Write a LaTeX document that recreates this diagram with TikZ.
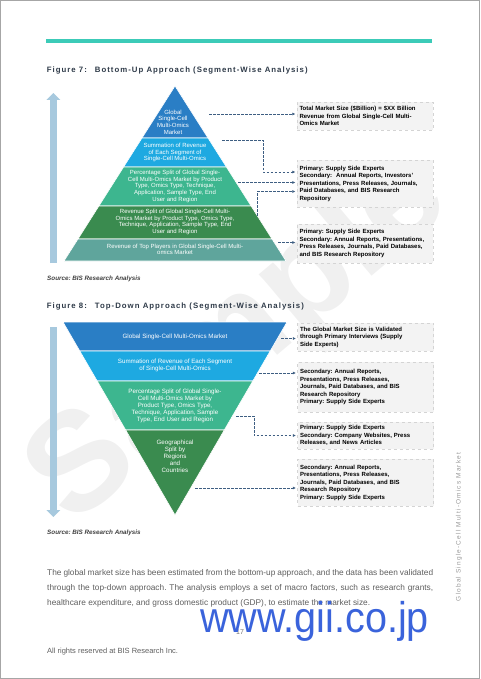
\documentclass[tikz,border=0pt]{standalone}
\usepackage{fontspec}
\setmainfont{Liberation Sans}
\newfontfamily\titlefont[LetterSpace=13]{Liberation Sans}
\newfontfamily\sidefont[LetterSpace=18]{Liberation Sans}
\usetikzlibrary{arrows.meta}
\frenchspacing
\definecolor{rulecol}{HTML}{3CCBB8}
\definecolor{layerA}{HTML}{2A7EC5}
\definecolor{layerB}{HTML}{1EA9E1}
\definecolor{layerC}{HTML}{3DB68F}
\definecolor{layerD}{HTML}{3A8B4F}
\definecolor{layerE}{HTML}{5FA59C}
\definecolor{barcol}{HTML}{A7C9DE}
\definecolor{linkcol}{HTML}{3E5E82}
\definecolor{boxfill}{HTML}{F3F3F3}
\definecolor{boxline}{HTML}{D4D4D4}
\definecolor{titlecol}{HTML}{2E3A48}
\definecolor{bodygray}{HTML}{5E5E5E}
\definecolor{giiblue}{HTML}{3A63DB}

\begin{document}
\begin{tikzpicture}[x=1pt,y=-1pt,
  layer/.style={draw=white, line width=0.6pt},
  layertext/.style={text=white, align=center, inner sep=0pt, font=\fontsize{6}{6.6}\selectfont},
  srcbox/.style={draw=boxline, dashed, fill=boxfill, minimum width=136pt, text width=131pt, inner xsep=2.5pt, inner ysep=0pt, align=left, font=\bfseries\fontsize{6}{7.5}\selectfont},
  link/.style={linkcol, dash pattern=on 2.5pt off 1.5pt, line width=0.7pt, shorten >=1.5pt, -{Latex[length=3pt, width=3pt]}},
  bar/.style={barcol, line width=7pt, -{Triangle[length=7pt, width=13.5pt]}},
  figtitle/.style={anchor=west, inner sep=0pt, text=titlecol, font=\titlefont\bfseries\fontsize{7.8}{9}\selectfont},
  source/.style={anchor=west, inner sep=0pt, text=black!75, font=\bfseries\itshape\fontsize{6.3}{7}\selectfont}]
\useasboundingbox (0,0) rectangle (480,679);
\node[rotate=40, text=black!6, font=\bfseries\fontsize{140}{140}\selectfont] (mark) at (240,340) {Sample};
\draw[gray!70, line width=1pt] (0.5,0.5) rectangle (479.5,678.5);
\draw[rulecol, line width=4pt] (46,41.3) -- (431.7,41.3);

\node[figtitle] (t7) at (46.7,70.7) {Figure 7:\hspace{8pt}Bottom-Up Approach (Segment-Wise Analysis)};
\draw[bar] (53.3,263) -- (53.3,93);
\fill[layerA, layer] (175,86) -- (208,138) -- (142,138) -- cycle;
\fill[layerB, layer] (142,138) -- (208,138) -- (226.4,167) -- (123.6,167) -- cycle;
\fill[layerC, layer] (123.6,167) -- (226.4,167) -- (251.1,206) -- (98.9,206) -- cycle;
\fill[layerD, layer] (98.9,206) -- (251.1,206) -- (272,239) -- (78,239) -- cycle;
\fill[layerE, layer] (78,239) -- (272,239) -- (286,261) -- (64,261) -- cycle;
\node[layertext] (p7a) at (173,122) {Global\\Single-Cell\\Multi-Omics\\Market};
\node[layertext] (p7b) at (175,152.7) {Summation of Revenue\\of Each Segment of\\Single-Cell Multi-Omics};
\node[layertext] (p7c) at (175,186.3) {Percentage Split of Global Single-\\Cell Multi-Omics Market by Product\\Type, Omics Type, Technique,\\Application, Sample Type, End\\User and Region};
\node[layertext] (p7d) at (175,222) {Revenue Split of Global Single-Cell Multi-\\Omics Market by Product Type, Omics Type,\\Technique, Application, Sample Type, End\\User and Region};
\node[layertext] (p7e) at (175,249.5) {Revenue of Top Players in Global Single-Cell Multi-\\omics Market};

\node[srcbox, minimum height=28pt] (b7a) at (365,116) {Total Market Size (\$Billion) = \$XX Billion\\Revenue from Global Single-Cell Multi-\\Omics Market};
\node[srcbox, minimum height=47pt] (b7b) at (365,183.5) {Primary: Supply Side Experts\\Secondary:~ Annual Reports, Investors'\\Presentations, Press Releases, Journals,\\Paid Databases, and BIS Research\\Repository};
\node[srcbox, minimum height=39pt] (b7c) at (365,243.5) {Primary: Supply Side Experts\\Secondary: Annual Reports, Presentations,\\Press Releases, Journals, Paid Databases,\\and BIS Research Repository};

\coordinate (c7a) at (209,114);
\coordinate (c7b) at (222,140.5);
\coordinate (k7b) at (263,172);
\coordinate (c7c) at (238,182.5);
\coordinate (c7d) at (257,215.5);
\coordinate (k7d) at (257,191.5);
\coordinate (c7e) at (278,242.5);
\draw[link] (c7a) -- (b7a.west |- c7a);
\draw[link] (c7b) -| (k7b) -- (b7b.west |- k7b);
\draw[link] (c7c) -- (b7b.west |- c7c);
\draw[link] (c7d) -- (k7d) -- (b7b.west |- k7d);
\draw[link] (c7e) -- (b7c.west |- c7e);
\node[source] (s7) at (47,278.5) {Source: BIS Research Analysis};

\node[figtitle] (t8) at (46.7,306.7) {Figure 8:\hspace{8pt}Top-Down Approach (Segment-Wise Analysis)};
\draw[bar] (53.3,327) -- (53.3,517);
\fill[layerA, layer] (63,322) -- (287,322) -- (270.2,351) -- (79.8,351) -- cycle;
\fill[layerB, layer] (79.8,351) -- (270.2,351) -- (252.8,381) -- (97.2,381) -- cycle;
\fill[layerC, layer] (97.2,381) -- (252.8,381) -- (224.3,430) -- (125.7,430) -- cycle;
\fill[layerD, layer] (125.7,430) -- (224.3,430) -- (175,515) -- cycle;
\node[layertext, font=\fontsize{6.2}{7}\selectfont] (p8a) at (175,336.7) {Global Single-Cell Multi-Omics Market};
\node[layertext, font=\fontsize{6.2}{7}\selectfont] (p8b) at (175,365.7) {Summation of Revenue of Each Segment\\of Single-Cell Multi-Omics};
\node[layertext, font=\fontsize{6.2}{7}\selectfont] (p8c) at (175,405.5) {Percentage Split of Global Single-\\Cell Multi-Omics Market by\\Product Type, Omics Type,\\Technique, Application, Sample\\Type, End User and Region};
\node[layertext, font=\fontsize{6.2}{7}\selectfont] (p8d) at (175,456.3) {Geographical\\Split by\\Regions\\and\\Countries};

\node[srcbox, minimum height=28pt] (b8a) at (365.5,337) {The Global Market Size is Validated\\through Primary Interviews (Supply\\Side Experts)};
\node[srcbox, minimum height=50pt] (b8b) at (365.5,387) {Secondary: Annual Reports,\\Presentations, Press Releases,\\Journals, Paid Databases, and BIS\\Research Repository\\Primary: Supply Side Experts};
\node[srcbox, minimum height=27pt] (b8c) at (365.5,435.5) {Primary: Supply Side Experts\\Secondary: Company Websites, Press\\Releases, and News Articles};
\node[srcbox, minimum height=47pt] (b8d) at (365.5,482.5) {Secondary: Annual Reports,\\Presentations, Press Releases,\\Journals, Paid Databases, and BIS\\Research Repository\\Primary: Supply Side Experts};

\coordinate (c8a) at (281,338.5);
\coordinate (c8b) at (259,373);
\coordinate (c8c) at (236,416);
\coordinate (k8c) at (254,435.5);
\coordinate (c8d) at (195,488);
\draw[link] (c8a) -- (b8a.west |- c8a);
\draw[link] (c8b) -- (b8b.west |- c8b);
\draw[link] (c8c) -| (k8c) -- (b8c.west |- k8c);
\draw[link] (c8d) -- (b8d.west |- c8d);
\node[source] (s8) at (47,532.5) {Source: BIS Research Analysis};

\node[anchor=north west, inner sep=0pt, text width=386pt, align=justify, text=bodygray, font=\fontsize{8.3}{14.8}\selectfont] (para) at (47,569.5) {The global market size has been estimated from the bottom-up approach, and the data has been validated\linebreak through the top-down approach. The analysis employs a set of macro factors, such as research grants,\linebreak healthcare expenditure, and gross domestic product (GDP), to estimate the market size.};
\node[text=black!55, font=\fontsize{7}{8}\selectfont] (page) at (240,632) {17};
\node[anchor=west, inner sep=0pt, text=bodygray, font=\fontsize{7.5}{9}\selectfont] (rights) at (47,652) {All rights reserved at BIS Research Inc.};
\node[rotate=90, inner sep=0pt, text=black!40, font=\sidefont\fontsize{6.5}{8}\selectfont] (side) at (459,527) {Global Single-Cell Multi-Omics Market};
\node[anchor=base west, inner sep=0pt, text=giiblue, font=\fontsize{43}{43}\selectfont] (gii) at (200,632) {\scalebox{0.92}[1]{www.gii.co.jp}};
\end{tikzpicture}
\end{document}
